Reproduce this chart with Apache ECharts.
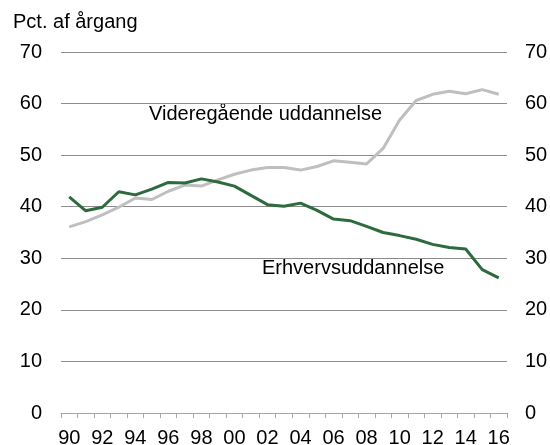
<!DOCTYPE html>
<html>
<head>
<meta charset="utf-8">
<script src="https://cdn.jsdelivr.net/npm/echarts@6/dist/echarts.min.js"></script>
<style>
    html, body { margin: 0; padding: 0; background: #fff; }
    #chart { width: 550px; height: 445px; }
</style>
</head>
<body>
<div id="chart"></div>
<script>
// år 1990-2016, vist som to cifre
var years = ['90','91','92','93','94','95','96','97','98','99','00','01','02','03','04','05','06','07','08','09','10','11','12','13','14','15','16'];
// pct. af årgang
var videregaaende = [36.1, 37.1, 38.4, 39.9, 41.7, 41.4, 43.0, 44.2, 44.0, 45.2, 46.3, 47.1, 47.6, 47.6, 47.1, 47.8, 48.9, 48.6, 48.3, 51.3, 56.8, 60.6, 61.8, 62.4, 61.9, 62.7, 61.8];
var erhverv = [41.9, 39.2, 39.9, 42.9, 42.3, 43.4, 44.7, 44.6, 45.4, 44.8, 44.0, 42.2, 40.4, 40.1, 40.7, 39.3, 37.6, 37.3, 36.2, 35.0, 34.4, 33.7, 32.7, 32.1, 31.8, 27.8, 26.2];

var font = 'Liberation Sans, Arial, sans-serif';
var textColor = '#000';

var chart = echarts.init(document.getElementById('chart'));
chart.setOption({
    animation: false,
    textStyle: { fontFamily: font },
    grid: { left: 61, right: 43, top: 52, bottom: 32, containLabel: false, outerBoundsMode: 'none' },
    xAxis: {
        type: 'category',
        data: years,
        boundaryGap: true,
        axisLine: { lineStyle: { color: '#a6a6a6', width: 1 } },
        axisTick: { show: true, interval: 0, length: 5, lineStyle: { color: '#a6a6a6' } },
        axisLabel: { interval: 1, color: textColor, fontSize: 20, margin: 15, fontFamily: font },
        splitLine: { show: false }
    },
    yAxis: [
        {
            type: 'value', min: 0, max: 70, interval: 10, position: 'left',
            axisLine: { show: false }, axisTick: { show: false },
            axisLabel: { color: textColor, fontSize: 20, margin: 19, fontFamily: font },
            splitLine: { show: true, lineStyle: { color: '#8c8c8c', width: 1 } }
        },
        {
            type: 'value', min: 0, max: 70, interval: 10, position: 'right',
            axisLine: { show: false }, axisTick: { show: false },
            axisLabel: { color: textColor, fontSize: 20, margin: 18, fontFamily: font },
            splitLine: { show: false }
        }
    ],
    graphic: [
        { type: 'text', left: 13, top: 12, style: { text: 'Pct. af årgang', fill: textColor, font: '20px ' + font } },
        { type: 'text', left: 149, top: 104, style: { text: 'Videregående uddannelse', fill: textColor, font: '20px ' + font } },
        { type: 'text', left: 262, top: 258, style: { text: 'Erhvervsuddannelse', fill: textColor, font: '20px ' + font } }
    ],
    series: [
        {
            name: 'Videregående uddannelse', type: 'line', data: videregaaende,
            symbol: 'none', lineStyle: { color: '#bfbfbf', width: 3 }, z: 2
        },
        {
            name: 'Erhvervsuddannelse', type: 'line', data: erhverv,
            symbol: 'none', lineStyle: { color: '#2d6a3e', width: 3 }, z: 3
        }
    ]
});
</script>
</body>
</html>
